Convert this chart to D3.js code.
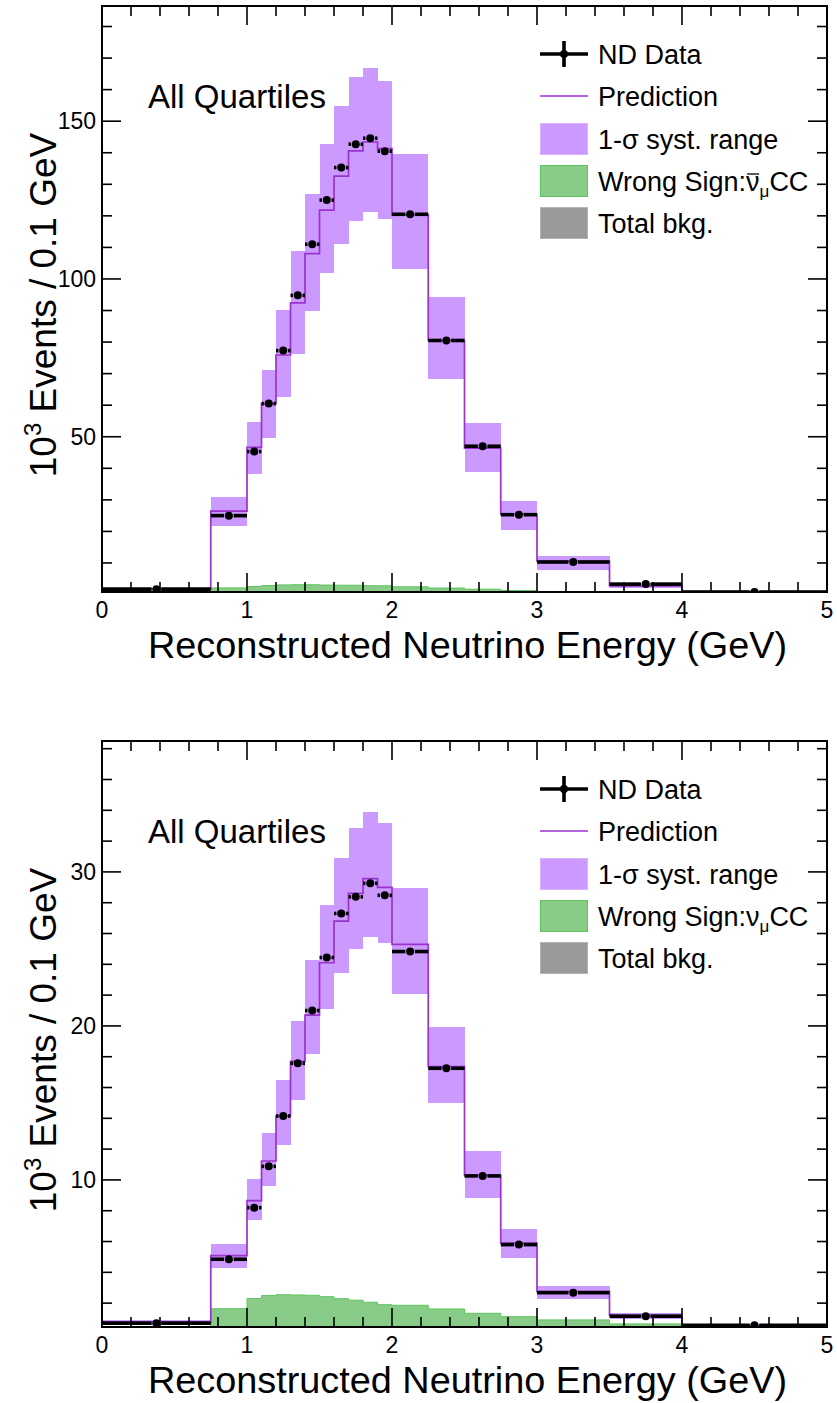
<!DOCTYPE html>
<html>
<head>
<meta charset="utf-8">
<script src="https://cdn.jsdelivr.net/npm/d3@7/dist/d3.min.js"></script>
<style>
  html, body { margin: 0; padding: 0; background: #fff; }
  svg { display: block; }
  text { font-family: "Liberation Sans", Arial, Helvetica, sans-serif; fill: #000; }
</style>
</head>
<body>
<svg id="chart" width="837" height="1403"></svg>
<script>
// Reconstructed energy binning (GeV), shared by both spectra
const binEdges = [0, 0.75, 1.0, 1.1, 1.2, 1.3, 1.4, 1.5, 1.6, 1.7, 1.8, 1.9, 2.0, 2.25, 2.5, 2.75, 3.0, 3.5, 4.0, 5.0];

// Upper spectrum (10^3 events / 0.1 GeV)
const dataTop     = [1.7, 25.0, 45.3, 60.5, 77.3, 94.8, 111.0, 125.0, 135.3, 142.7, 144.6, 140.5, 120.5, 80.5, 47.0, 25.3, 10.3, 3.3, 0.8];
const predTop     = [1.8, 26.4, 46.6, 60.5, 75.9, 92.4, 108.0, 121.8, 132.6, 140.6, 143.4, 141.3, 120.3, 80.5, 46.4, 25.5, 10.6, 2.7, 0.9];
const systLoTop   = [1.4, 21.6, 38.3, 49.6, 62.6, 76.1, 89.8, 102.0, 111.2, 118.3, 121.3, 119.1, 103.0, 68.2, 38.7, 20.5, 7.9, 2.2, 0.8];
const systHiTop   = [2.1, 30.9, 54.8, 71.2, 90.3, 108.8, 126.8, 142.7, 154.9, 163.9, 166.8, 162.6, 139.7, 94.2, 54.5, 29.5, 12.1, 3.6, 1.0];
const wrongTop    = [0.2, 2.1, 2.55, 2.85, 3.05, 3.1, 3.1, 3.0, 2.95, 2.95, 2.8, 2.75, 2.45, 2.05, 1.7, 1.3, 0.9, 0.45, 0.1];

// Lower spectrum (10^3 events / 0.1 GeV)
const dataBot     = [0.7, 4.85, 8.2, 10.88, 14.15, 17.57, 21.0, 24.44, 27.3, 28.38, 29.26, 28.48, 24.83, 17.25, 10.26, 5.8, 2.68, 1.15, 0.56];
const predBot     = [0.74, 5.08, 8.66, 11.23, 14.15, 17.7, 20.7, 24.1, 26.8, 28.6, 29.57, 29.0, 25.3, 17.36, 10.3, 5.89, 2.75, 1.21, 0.55];
const systLoBot   = [0.6, 4.3, 7.4, 9.61, 12.27, 15.2, 18.2, 21.08, 23.46, 25.0, 25.8, 25.37, 22.06, 15.02, 8.85, 4.96, 2.25, 1.0, 0.45];
const systHiBot   = [0.9, 5.84, 10.06, 13.03, 16.49, 20.35, 24.26, 27.86, 30.89, 32.84, 33.87, 33.16, 28.94, 19.9, 11.88, 6.8, 3.1, 1.35, 0.65];
const wrongBot    = [0.15, 1.64, 2.3, 2.49, 2.55, 2.53, 2.51, 2.42, 2.29, 2.19, 2.06, 1.9, 1.86, 1.62, 1.34, 1.12, 0.91, 0.65, 0.3];

// Axis tick labels
const xTickValues = [0, 1, 2, 3, 4, 5];
const yTicksTop = [50, 100, 150];
const yTicksBot = [10, 20, 30];

const legendLabels = ["ND Data", "Prediction", "1-\u03c3 syst. range", "Wrong Sign:", "Total bkg."];

const colors = {
  band: "#cc99ff",
  bandEdge: "#d9b3ff",
  pred: "#9933cc",
  wrong: "#88cc88",
  wrongEdge: "#5fc55f",
  bkg: "#999999",
  bkgEdge: "#b3b3b3"
};

const svg = d3.select("#chart");

function drawPanel(cfg) {
  const frame = cfg.frame; // {x0, x1, y0, y1}
  const x = d3.scaleLinear().domain([0, 5]).range([frame.x0, frame.x1]);
  const y = d3.scaleLinear().domain(cfg.yDomain).range([frame.y1, frame.y0]);
  const g = svg.append("g");

  const bins = d3.range(binEdges.length - 1).map(i => ({
    lo: binEdges[i], hi: binEdges[i + 1],
    data: cfg.data[i], pred: cfg.pred[i],
    sLo: cfg.sLo[i], sHi: cfg.sHi[i], wrong: cfg.wrong[i]
  }));

  const clipId = "clip" + cfg.id;
  svg.append("clipPath").attr("id", clipId).append("rect")
    .attr("x", frame.x0).attr("y", frame.y0)
    .attr("width", frame.x1 - frame.x0).attr("height", frame.y1 - frame.y0);
  const plot = g.append("g").attr("clip-path", `url(#${clipId})`);

  // systematic band
  plot.selectAll("rect.band").data(bins).join("rect")
    .attr("class", "band")
    .attr("x", d => x(d.lo))
    .attr("width", d => x(d.hi) - x(d.lo))
    .attr("y", d => y(d.sHi))
    .attr("height", d => Math.max(0, y(d.sLo) - y(d.sHi)))
    .attr("fill", colors.band)
    .attr("shape-rendering", "crispEdges");

  // wrong-sign component, filled step histogram
  const stepPts = [];
  bins.forEach(d => { stepPts.push([d.lo, d.wrong]); stepPts.push([d.hi, d.wrong]); });
  const area = d3.area()
    .x(d => x(d[0]))
    .y0(y(cfg.yDomain[0]))
    .y1(d => y(d[1]));
  plot.append("path").datum(stepPts)
    .attr("d", area)
    .attr("fill", colors.wrong);
  plot.append("path").datum(stepPts)
    .attr("d", d3.line().x(d => x(d[0])).y(d => y(d[1])))
    .attr("fill", "none")
    .attr("stroke", colors.wrongEdge)
    .attr("stroke-width", 1);

  // prediction step line
  const predPts = [[0, cfg.yDomain[0]]];
  bins.forEach(d => { predPts.push([d.lo, d.pred]); predPts.push([d.hi, d.pred]); });
  predPts.push([5, cfg.yDomain[0]]);
  plot.append("path").datum(predPts)
    .attr("d", d3.line().x(d => x(d[0])).y(d => y(d[1])))
    .attr("fill", "none")
    .attr("stroke", colors.pred)
    .attr("stroke-width", 1.7);

  // data points with horizontal bin-width bars
  const r = 4, gap = r + 0.8, barW = 3.6;
  const pts = plot.append("g");
  bins.forEach(d => {
    const cx = x((d.lo + d.hi) / 2), cy = y(d.data);
    pts.append("line")
      .attr("x1", x(d.lo)).attr("x2", cx - gap)
      .attr("y1", cy).attr("y2", cy)
      .attr("stroke", "#000").attr("stroke-width", barW);
    pts.append("line")
      .attr("x1", cx + gap).attr("x2", x(d.hi))
      .attr("y1", cy).attr("y2", cy)
      .attr("stroke", "#000").attr("stroke-width", barW);
    pts.append("circle").attr("cx", cx).attr("cy", cy).attr("r", r).attr("fill", "#000");
  });

  // ticks on all four sides, pointing inward
  const majL = 19, minL = 10;
  const ticks = g.append("g").attr("stroke", "#000").attr("stroke-width", 1.6);
  const xMinor = d3.range(0, 5.0001, 0.2).map(v => +v.toFixed(2));
  xMinor.forEach(v => {
    const isMaj = Math.abs(v - Math.round(v)) < 1e-6;
    const L = isMaj ? majL : minL;
    ticks.append("line").attr("x1", x(v)).attr("x2", x(v))
      .attr("y1", frame.y1).attr("y2", frame.y1 - L);
    ticks.append("line").attr("x1", x(v)).attr("x2", x(v))
      .attr("y1", frame.y0).attr("y2", frame.y0 + L);
  });
  const yMinor = d3.range(cfg.yMinorStep, cfg.yDomain[1], cfg.yMinorStep);
  yMinor.forEach(v => {
    const isMaj = cfg.yTicks.some(t => Math.abs(t - v) < 1e-6);
    const L = isMaj ? majL : minL;
    ticks.append("line").attr("y1", y(v)).attr("y2", y(v))
      .attr("x1", frame.x0).attr("x2", frame.x0 + L);
    ticks.append("line").attr("y1", y(v)).attr("y2", y(v))
      .attr("x1", frame.x1).attr("x2", frame.x1 - L);
  });

  // frame
  g.append("rect")
    .attr("x", frame.x0).attr("y", frame.y0)
    .attr("width", frame.x1 - frame.x0).attr("height", frame.y1 - frame.y0)
    .attr("fill", "none").attr("stroke", "#000").attr("stroke-width", 2);

  // tick labels
  g.selectAll("text.xl").data(xTickValues).join("text")
    .attr("class", "xl")
    .attr("x", d => x(d)).attr("y", frame.y1 + 26)
    .attr("text-anchor", "middle")
    .attr("font-size", 23)
    .text(d => d);
  g.selectAll("text.yl").data(cfg.yTicks).join("text")
    .attr("class", "yl")
    .attr("x", frame.x0 - 6).attr("y", d => y(d))
    .attr("dy", "0.36em")
    .attr("text-anchor", "end")
    .attr("font-size", 23)
    .text(d => d);

  // axis titles
  g.append("text")
    .attr("x", (frame.x0 + frame.x1) / 2 + 3)
    .attr("y", frame.y1 + 66)
    .attr("text-anchor", "middle")
    .attr("font-size", 37)
    .attr("textLength", 639)
    .attr("lengthAdjust", "spacingAndGlyphs")
    .text("Reconstructed Neutrino Energy (GeV)");

  const yt = g.append("text")
    .attr("transform", `translate(56, ${(frame.y0 + frame.y1) / 2 + 6}) rotate(-90)`)
    .attr("text-anchor", "middle")
    .attr("font-size", 37);
  yt.append("tspan").text("10");
  yt.append("tspan").attr("font-size", 24).attr("dy", -15).text("3");
  yt.append("tspan").attr("dy", 15).text(" Events / 0.1 GeV");

  // panel label
  g.append("text")
    .attr("x", 148).attr("y", frame.y0 + 102)
    .attr("font-size", 33)
    .text("All Quartiles");

  // legend
  const lg = g.append("g");
  const lx0 = 540, lx1 = 588, tx = 598;
  const rowY = [48, 90, 133, 175, 217].map(v => frame.y0 + v);
  const fs = 27;
  // ND Data
  lg.append("line").attr("x1", lx0).attr("x2", lx1).attr("y1", rowY[0]).attr("y2", rowY[0])
    .attr("stroke", "#000").attr("stroke-width", barW);
  lg.append("line").attr("x1", (lx0 + lx1) / 2).attr("x2", (lx0 + lx1) / 2)
    .attr("y1", rowY[0] - 13).attr("y2", rowY[0] + 13)
    .attr("stroke", "#000").attr("stroke-width", barW);
  lg.append("circle").attr("cx", (lx0 + lx1) / 2).attr("cy", rowY[0]).attr("r", r).attr("fill", "#000");
  // Prediction
  lg.append("line").attr("x1", lx0).attr("x2", lx1).attr("y1", rowY[1]).attr("y2", rowY[1])
    .attr("stroke", colors.pred).attr("stroke-width", 1.7);
  // boxes
  [[2, colors.band, colors.bandEdge], [3, colors.wrong, colors.wrongEdge], [4, colors.bkg, colors.bkgEdge]]
    .forEach(([i, fill, edge]) => {
      lg.append("rect").attr("x", lx0 + 0.5).attr("y", rowY[i] - 15.5)
        .attr("width", lx1 - lx0 - 1).attr("height", 31)
        .attr("fill", fill).attr("stroke", edge).attr("stroke-width", 1);
    });
  legendLabels.forEach((lab, i) => {
    const t = lg.append("text").attr("x", tx).attr("y", rowY[i] + 10).attr("font-size", fs);
    t.append("tspan").text(lab);
    if (i === 3) {
      t.append("tspan").text("\u03bd");
      t.append("tspan").attr("font-size", 17).attr("dy", 6).text("\u03bc");
      t.append("tspan").attr("dy", -6).text("CC");
      if (cfg.antiNu) {
        const ext = t.node().getExtentOfChar(lab.length);
        lg.append("line")
          .attr("x1", ext.x + 1).attr("x2", ext.x + ext.width - 0.5)
          .attr("y1", rowY[i] + 10 - 17).attr("y2", rowY[i] + 10 - 17)
          .attr("stroke", "#000").attr("stroke-width", 1.3);
      }
    }
  });
}

drawPanel({
  id: "top",
  frame: { x0: 102, x1: 827, y0: 6, y1: 592 },
  yDomain: [0.8, 186.5],
  yTicks: yTicksTop,
  yMinorStep: 10,
  data: dataTop, pred: predTop, sLo: systLoTop, sHi: systHiTop, wrong: wrongTop,
  antiNu: true
});

drawPanel({
  id: "bot",
  frame: { x0: 102, x1: 827, y0: 741, y1: 1327 },
  yDomain: [0.45, 38.5],
  yTicks: yTicksBot,
  yMinorStep: 2,
  data: dataBot, pred: predBot, sLo: systLoBot, sHi: systHiBot, wrong: wrongBot,
  antiNu: false
});
</script>
</body>
</html>
